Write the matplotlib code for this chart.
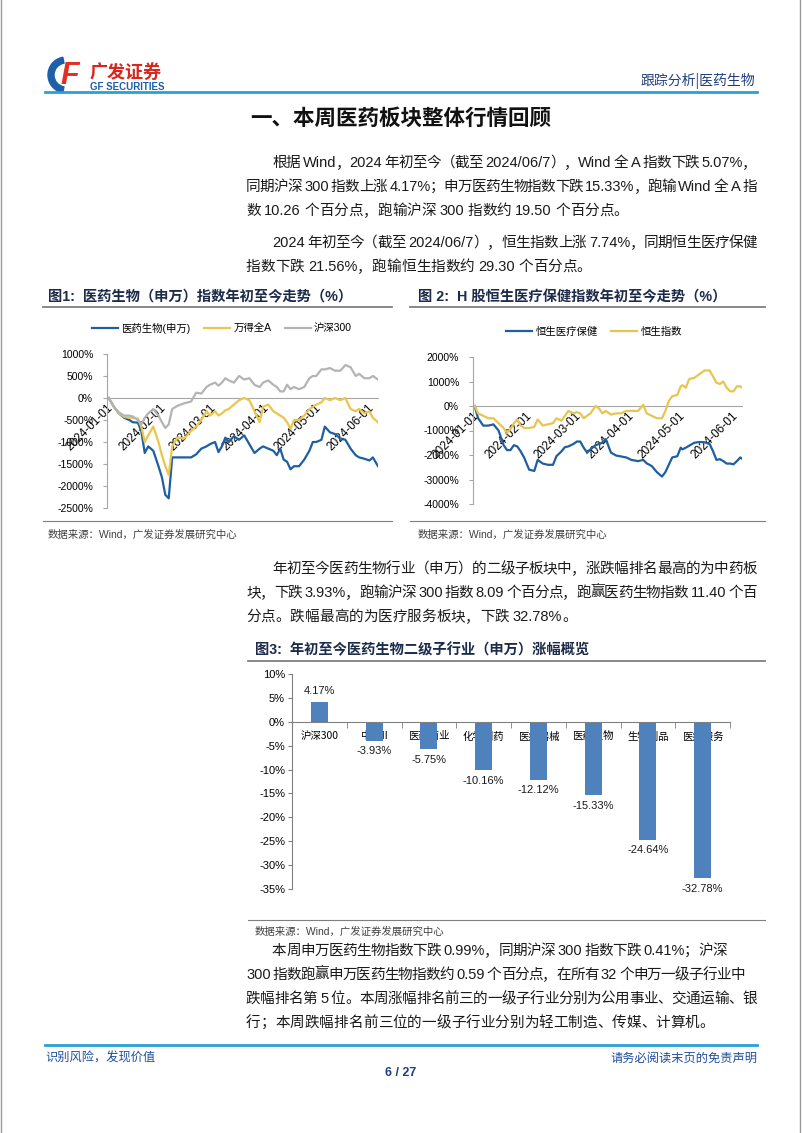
import re
import matplotlib
matplotlib.use('Agg')
import matplotlib.pyplot as plt
import matplotlib.dates as mdates
import pandas as pd
from matplotlib import font_manager
from matplotlib.patches import Wedge
from matplotlib.ticker import FuncFormatter, MultipleLocator

plt.rcParams['font.family'] = ['Liberation Sans', 'Noto Sans CJK SC', 'DejaVu Sans']
plt.rcParams['axes.unicode_minus'] = False

W, H = 802, 1133

# ---------------- data ----------------
# 图1: 医药生物(申万) / 万得全A / 沪深300 年初至今 (%)
dates1 = ['01-02', '01-05', '01-08', '01-11', '01-14', '01-16', '01-19', '01-21', '01-23', '01-25',
          '01-28', '01-31', '02-02', '02-04', '02-06', '02-08', '02-11', '02-15', '02-19', '02-22',
          '02-25', '02-28', '03-01', '03-04', '03-06', '03-08', '03-10', '03-12', '03-15', '03-18',
          '03-21', '03-24', '03-27', '03-30', '04-01', '04-04', '04-07', '04-09', '04-11', '04-13',
          '04-15', '04-17', '04-19', '04-22', '04-25', '04-28', '04-30', '05-02', '05-05', '05-07',
          '05-10', '05-13', '05-16', '05-19', '05-22', '05-25', '05-27', '05-30', '06-02', '06-04',
          '06-07']
sw_med = [0, -200, -350, -450, -500, -550, -560, -750, -1250, -1100,
          -1200, -1550, -1800, -2200, -2280, -1350, -1350, -1350, -1350, -1280,
          -1150, -1100, -1050, -1000, -1230, -1100, -900, -1000, -870, -950,
          -850, -1050, -1250, -1150, -1100, -1150, -1200, -1300, -1150, -1400,
          -1450, -1620, -1550, -1550, -1400, -1200, -1000, -1000, -950, -650,
          -780, -820, -920, -950, -1150, -1300, -1350, -1380, -1420, -1350,
          -1550]
wind_a = [0, -200, -350, -430, -450, -450, -470, -650, -1000, -850,
          -650, -1000, -1300, -1550, -1750, -1100, -900, -920, -750, -650,
          -500, -300, -400, -300, -400, -350, -280, -250, -150, -50,
          0, -50, -300, -550, -200, -150, -300, -350, -400, -450,
          -550, -700, -500, -500, -400, -250, -200, -150, -100, 0,
          -50, 0, -50, 0, -250, -300, -250, -350, -300, -450,
          -550]
hs300 = [0, -200, -330, -400, -400, -420, -500, -600, -450, -350,
         -250, -400, -550, -680, -600, -250, -180, -120, -80, 120,
         100, 250, 300, 350, 280, 350, 450, 400, 350, 500,
         420, 450, 300, 250, 350, 400, 300, 250, 150, 150,
         300, 200, 250, 200, 250, 450, 500, 500, 650, 650,
         680, 620, 620, 750, 700, 500, 550, 450, 450, 500,
         420]

# 图2: 恒生医疗保健 / 恒生指数 年初至今 (%)
dates2 = ['01-02', '01-04', '01-07', '01-10', '01-13', '01-16', '01-19', '01-21', '01-23', '01-25',
          '01-27', '01-29', '01-31', '02-03', '02-06', '02-08', '02-11', '02-14', '02-17', '02-19',
          '02-22', '02-24', '02-26', '02-29', '03-02', '03-04', '03-06', '03-08', '03-10', '03-13',
          '03-15', '03-17', '03-19', '03-22', '03-25', '03-28', '03-31', '04-03', '04-07', '04-10',
          '04-12', '04-15', '04-18', '04-21', '04-23', '04-25', '04-27', '04-30', '05-02', '05-03',
          '05-05', '05-07', '05-10', '05-13', '05-16', '05-19', '05-21', '05-23', '05-25', '05-27',
          '05-29', '05-31', '06-02', '06-04', '06-06', '06-07']
hk_health = [0, -500, -800, -800, -750, -1000, -1600, -1800, -1800, -1600,
             -1650, -1850, -2100, -2600, -2650, -2200, -2350, -2400, -2400, -2050,
             -1850, -1680, -1650, -1550, -1450, -1450, -1700, -1900, -1770, -1600,
             -1550, -1500, -1350, -1900, -2020, -2060, -2100, -2200, -2250, -2200,
             -2340, -2450, -2700, -2880, -2700, -2400, -2100, -2050, -1700, -1770,
             -1700, -1620, -1500, -1470, -1480, -1550, -1850, -2200, -2170, -2250,
             -2350, -2350, -2380, -2250, -2100, -2150]
hsi = [0, -300, -400, -500, -500, -700, -900, -1100, -950, -700,
       -550, -800, -900, -900, -850, -550, -800, -750, -700, -500,
       -600, -400, -200, -300, -250, -300, -500, -400, -300, 0,
       -100, -300, -200, -350, -300, -300, -200, -200, -200, 50,
       -300, -400, -500, -500, -200, 200, 400, 450, 800, 850,
       750, 1100, 1150, 1300, 1450, 1450, 1200, 950, 900, 1000,
       750, 600, 600, 800, 800, 750]

# 图3: 二级子行业涨跌幅 (%)
sub_names = ['沪深300', '中药II', '医药商业', '化学制药', '医疗器械', '医药生物', '生物制品', '医疗服务']
sub_chg = [4.17, -3.93, -5.75, -10.16, -12.12, -15.33, -24.64, -32.78]

para1 = ['根据 Wind，2024 年初至今（截至 2024/06/7），Wind 全 A 指数下跌 5.07%，',
         '同期沪深 300 指数上涨 4.17%；申万医药生物指数下跌 15.33%，跑输 Wind 全 A 指',
         '数 10.26 个百分点，跑输沪深 300 指数约 19.50 个百分点。']
para2 = ['2024 年初至今（截至 2024/06/7），恒生指数上涨 7.74%，同期恒生医疗保健',
         '指数下跌 21.56%，跑输恒生指数约 29.30 个百分点。']
para3 = ['年初至今医药生物行业（申万）的二级子板块中，涨跌幅排名最高的为中药板',
         '块，下跌 3.93%，跑输沪深 300 指数 8.09 个百分点，跑赢医药生物指数 11.40 个百',
         '分点。跌幅最高的为医疗服务板块，下跌 32.78%。']
para4 = ['本周申万医药生物指数下跌 0.99%，同期沪深 300 指数下跌 0.41%；沪深',
         '300 指数跑赢申万医药生物指数约 0.59 个百分点，在所有 32 个申万一级子行业中',
         '跌幅排名第 5 位。本周涨幅排名前三的一级子行业分别为公用事业、交通运输、银',
         '行；本周跌幅排名前三位的一级子行业分别为轻工制造、传媒、计算机。']

# ---------------- figure ----------------
names = {f.name for f in font_manager.fontManager.ttflist}
BODY = (['Liberation Sans Narrow'] if 'Liberation Sans Narrow' in names else ['Liberation Sans']) \
    + ['Noto Sans CJK SC', 'DejaVu Sans']
CJK = ['Noto Sans CJK SC', 'DejaVu Sans']

fig = plt.figure(figsize=(W / 100, H / 100), dpi=100)
page = fig.add_axes([0, 0, 1, 1])
page.set_xlim(0, W)
page.set_ylim(H, 0)
page.axis('off')
rend = fig.canvas.get_renderer()


def px_axes(x0, y0, x1, y1):
    return fig.add_axes([x0 / W, 1 - y1 / H, (x1 - x0) / W, (y1 - y0) / H])


def text_line(x0, x1, y, s, size=10.5, justify=True, color='#1a1a1a'):
    toks = re.findall(r'[A-Za-z0-9.%/]+| |.', s)
    ws = []
    for tk in toks:
        if tk == ' ':
            ws.append(3.5)
        else:
            t = page.text(0, 0, tk, fontsize=size, family=BODY)
            ws.append(t.get_window_extent(rend).width)
            t.remove()
    extra = (x1 - x0 - sum(ws)) / (len(toks) - 1) if justify and len(toks) > 1 else 0
    x = x0
    for tk, w in zip(toks, ws):
        if tk != ' ':
            page.text(x, y, tk, fontsize=size, family=BODY, color=color, ha='left', va='baseline')
        x += w + extra


def paragraph(lines, y0, ends=None, step=24):
    for i, s in enumerate(lines):
        x0 = 272 if i == 0 else 246
        last = i == len(lines) - 1
        x1 = ends[i] if ends else 757
        text_line(x0, x1, y0 + i * step + 5, s, justify=not last)


# page frame
page.plot([1, 1], [0, H], color='#9a9a9a', lw=1)
page.plot([800, 800], [0, H], color='#9a9a9a', lw=1)

# header / logo
page.add_patch(Wedge((66, 75), 18, 100, 260, width=6, color='#1d5fa8'))
page.text(70, 76, 'F', fontsize=22, weight='bold', style='italic', color='#e03024',
          ha='center', va='center', family='Liberation Sans')
page.text(90, 72, '广发证券', fontsize=13, weight='bold', color='#d7261e', va='center', family=CJK)
page.text(90, 87, 'GF SECURITIES', fontsize=7, weight='bold', color='#1d5fa8', va='center')
page.text(755, 81, '跟踪分析|医药生物', fontsize=10, color='#203f7a', ha='right', va='center', family=CJK)
page.plot([45, 757], [92, 92], color='#2aa0d8', lw=2)

page.text(401, 118, '一、本周医药板块整体行情回顾', fontsize=15.5, weight='bold', color='#111111',
          ha='center', va='center', family=CJK)

paragraph(para1, 162)
paragraph(para2, 242)
paragraph(para3, 568)
paragraph(para4, 950, ends=[727, 745, 757, 757])

# footer
page.plot([45, 757], [1045, 1045], color='#2aa0d8', lw=2)
page.text(45, 1058, '识别风险，发现价值', fontsize=8.8, color='#1f4e9c', va='center', family=CJK)
page.text(757, 1058, '请务必阅读末页的免责声明', fontsize=8.8, color='#1f4e9c', ha='right', va='center', family=CJK)
page.text(401, 1073, '6 / 27', fontsize=9, weight='bold', color='#1f3f7a', ha='center', va='center')

TITLE_C = '#1c2b4a'
SRC = '数据来源：Wind，广发证券发展研究中心'
for (x0, x1, tx, title) in [(43, 392, 48, '图1:  医药生物（申万）指数年初至今走势（%）'),
                            (410, 765, 418, '图 2:  H 股恒生医疗保健指数年初至今走势（%）')]:
    page.text(tx, 297, title, fontsize=10.3, weight='bold', color=TITLE_C, va='center')
    page.plot([x0, x1], [307, 307], color='#7f7f7f', lw=1.3)
    page.plot([x0, x1], [521, 521], color='#7f7f7f', lw=0.8)
    page.text(tx, 535, SRC, fontsize=7.5, color='#404040', va='center')

page.text(255, 650, '图3:  年初至今医药生物二级子行业（申万）涨幅概览', fontsize=10.3, weight='bold',
          color=TITLE_C, va='center')
page.plot([248, 765], [661, 661], color='#7f7f7f', lw=1.3)
page.plot([248, 765], [920, 920], color='#7f7f7f', lw=0.8)
page.text(255, 932, SRC, fontsize=7.5, color='#404040', va='center')

AXC = '#a6a6a6'
pct = FuncFormatter(lambda v, _: f'{v:.0f}%')


def style_line_axes(ax, ylo, yhi, step, end):
    ax.set_xlim(pd.Timestamp('2024-01-01'), pd.Timestamp(end))
    ax.set_ylim(ylo, yhi)
    ax.yaxis.set_major_locator(MultipleLocator(step))
    ax.yaxis.set_major_formatter(pct)
    for s in ['top', 'right']:
        ax.spines[s].set_visible(False)
    ax.spines['left'].set_color(AXC)
    ax.spines['bottom'].set_position(('data', 0))
    ax.spines['bottom'].set_color(AXC)
    ax.spines['bottom'].set_zorder(1)
    ax.xaxis.set_major_locator(mdates.MonthLocator())
    ax.xaxis.set_major_formatter(mdates.DateFormatter('%Y-%m-%d'))
    ax.tick_params(axis='x', length=0, pad=3, labelsize=8.5)
    ax.tick_params(axis='y', length=3, color=AXC, labelsize=7.5, pad=7)
    for lb in ax.get_xticklabels():
        lb.set_rotation(45)
        lb.set_ha('right')
        lb.set_rotation_mode('anchor')
    ax.patch.set_alpha(0)


LEG = dict(frameon=False, fontsize=7.5, handlelength=2.5, handletextpad=0.3, columnspacing=1.3,
           bbox_transform=fig.transFigure, loc='center')

# chart 1
ax1 = px_axes(107, 354, 378, 508)
d1 = pd.to_datetime(['2024-' + d for d in dates1])
ax1.plot(d1, sw_med, color='#1f5f9f', lw=1.6, label='医药生物(申万)')
ax1.plot(d1, wind_a, color='#ecc54c', lw=1.6, label='万得全A')
ax1.plot(d1, hs300, color='#b4b4b4', lw=1.6, label='沪深300')
style_line_axes(ax1, -2500, 1000, 500, '2024-06-07')
ax1.legend(bbox_to_anchor=(222 / W, 1 - 328 / H), ncol=3, **LEG)

# chart 2
ax2 = px_axes(473, 357, 742, 504)
d2 = pd.to_datetime(['2024-' + d for d in dates2])
ax2.plot(d2, hk_health, color='#1f5f9f', lw=1.6, label='恒生医疗保健')
ax2.plot(d2, hsi, color='#e8c451', lw=1.6, label='恒生指数')
style_line_axes(ax2, -4000, 2000, 1000, '2024-06-07')
ax2.legend(bbox_to_anchor=(594 / W, 1 - 332 / H), ncol=2, **LEG)

# chart 3
ax3 = px_axes(292, 674, 730, 889)
xs = range(len(sub_names))
bars = ax3.bar(xs, sub_chg, width=0.31, color='#4f81bd', zorder=2)
ax3.bar_label(bars, labels=[f'{v:.2f}%' for v in sub_chg], padding=4, fontsize=8, color='#1a1a1a')
ax3.set_xlim(-0.5, len(sub_names) - 0.5)
ax3.set_ylim(-35, 10)
ax3.yaxis.set_major_locator(MultipleLocator(5))
ax3.yaxis.set_major_formatter(pct)
for s in ['top', 'right']:
    ax3.spines[s].set_visible(False)
ax3.spines['left'].set_color('#808080')
ax3.spines['bottom'].set_position(('data', 0))
ax3.spines['bottom'].set_color('#808080')
ax3.set_xticks(list(xs))
ax3.set_xticklabels(sub_names, fontsize=7.5, family=CJK)
ax3.set_xticks([i + 0.5 for i in xs], minor=True)
ax3.tick_params(axis='x', which='major', length=0, pad=7)
ax3.tick_params(axis='x', which='minor', length=4, color='#808080')
ax3.tick_params(axis='y', length=3, color='#808080', labelsize=8, pad=2)
ax3.patch.set_alpha(0)

fig.savefig('out.png', dpi=100)
